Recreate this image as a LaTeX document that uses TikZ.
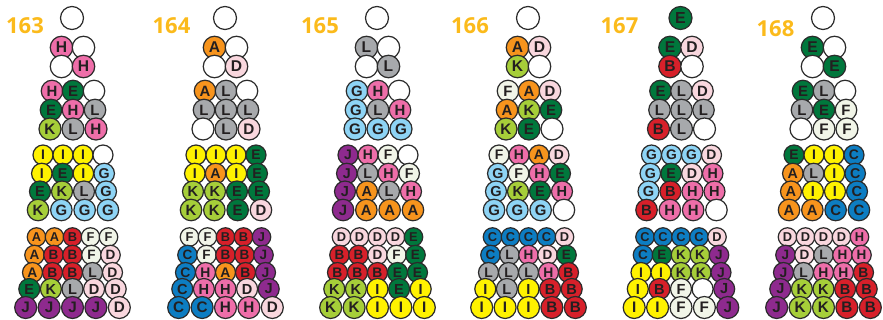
\documentclass[tikz,border=0pt]{standalone}
\usepackage{fontspec}
\setmainfont{Liberation Sans}
\newfontfamily\numfont{Open Sans}

\definecolor{toneA}{HTML}{F7941D}
\definecolor{toneB}{HTML}{D7202A}
\definecolor{toneC}{HTML}{0D7DC2}
\definecolor{toneD}{HTML}{F9D7DE}
\definecolor{toneE}{HTML}{00773C}
\definecolor{toneF}{HTML}{F1F5E8}
\definecolor{toneG}{HTML}{8ED4F5}
\definecolor{toneH}{HTML}{EE6EA9}
\definecolor{toneI}{HTML}{FFF200}
\definecolor{toneJ}{HTML}{8E2A8E}
\definecolor{toneK}{HTML}{A6CE39}
\definecolor{toneL}{HTML}{A7A9AC}
\definecolor{tonex}{HTML}{FFFFFF}
\definecolor{ballrim}{HTML}{2B2B2B}
\definecolor{letterink}{HTML}{231F20}
\definecolor{labelgold}{HTML}{FBBA1B}

\tikzset{
  ball/.style={circle, draw=ballrim, line width=0.9pt, inner sep=0pt, text=letterink},
  pilelabel/.style={text=labelgold, font=\numfont\bfseries\fontsize{16.5}{16.5}\selectfont}
}

% row heights, steps and ball sizes (px) for the groups of 1 to 5 rows
\def\yOne{{18,18}}       \def\sOne{{0,0}}               \def\dOne{{23,23}}
\def\yTwo{{47.5,66.5}}   \def\sTwo{{22,22}}             \def\dTwo{{22.5,22.5}}
\def\yThree{{91,110,129}} \def\sThree{{21,22,23}}       \def\dThree{{21.5,21.5,22}}
\def\yFour{{155,173.5,191.5,210}} \def\sFour{{20,20.8,22,23.3}} \def\dFour{{20,20.5,21,21.5}}
\def\yFive{{237,255,272.5,289,307.5}} \def\sFive{{18,19,20,21.6,23.4}} \def\dFive{{18.5,19.5,20,21,22}}

\newcommand\ballgroup[7]{%
  % #1 name, #2 centre x, #3 size, #4 row y, #5 row step, #6 ball size, #7 rows
  \foreach \row [count=\r from 0] in {#7} {
    \pgfmathsetmacro\yy{#4[\r]}
    \pgfmathsetmacro\ss{#5[\r]}
    \pgfmathsetmacro\dd{#6[\r]}
    \pgfmathsetmacro\ff{0.52*\dd}
    \foreach \tone [count=\i from 0] in \row {
      \pgfmathsetmacro\xx{#2+(\i-(#3-1)/2)*\ss}
      \node[ball, fill=tone\tone, minimum size=\dd*0.75pt,
            font=\bfseries\fontsize{\ff pt}{\ff pt}\selectfont] (#1-\r-\i) at (\xx,\yy)
        {\if x\tone\else\tone\fi};
    }
  }
}

\newcommand\pile[7]{%
  % #1 name, #2 centre x, #3..#7 groups of 1 to 5 rows
  \ballgroup{#1g1}{#2}{1}{\yOne}{\sOne}{\dOne}{#3}
  \ballgroup{#1g2}{#2+0.5}{2}{\yTwo}{\sTwo}{\dTwo}{#4}
  \ballgroup{#1g3}{#2+1}{3}{\yThree}{\sThree}{\dThree}{#5}
  \ballgroup{#1g4}{#2+1}{4}{\yFour}{\sFour}{\dFour}{#6}
  \ballgroup{#1g5}{#2+0.5}{5}{\yFive}{\sFive}{\dFive}{#7}
}

\begin{document}
\begin{tikzpicture}[x=0.75pt, y=-0.75pt]
  \useasboundingbox (0,0) rectangle (883,320);

  % 163
  \node[pilelabel] (n163) at (25,25.5) {163};
  \pile{p163}{72}{{x}}{{H,x},{x,H}}{{H,E,x},{E,H,L},{K,L,H}}
    {{I,I,I,x},{I,E,I,G},{E,K,L,G},{K,G,G,G}}
    {{A,A,B,F,F},{A,B,B,F,D},{A,B,B,L,D},{E,K,L,D,D},{J,J,J,J,D}}

  % 164
  \node[pilelabel] (n164) at (171.5,25.5) {164};
  \pile{p164}{225}{{x}}{{A,x},{x,D}}{{A,L,x},{L,L,L},{x,L,D}}
    {{I,I,I,E},{I,A,I,E},{K,K,E,E},{K,K,E,D}}
    {{F,F,B,B,J},{C,F,B,B,J},{C,H,A,B,J},{C,H,H,D,J},{C,C,H,H,D}}

  % 165
  \node[pilelabel] (n165) at (320,25.5) {165};
  \pile{p165}{377}{{x}}{{L,x},{x,L}}{{G,H,x},{G,L,H},{G,G,G}}
    {{J,H,F,x},{J,L,H,F},{J,A,L,H},{J,A,A,A}}
    {{D,D,D,D,E},{B,B,D,F,E},{B,B,B,E,E},{K,K,I,E,I},{K,K,I,I,I}}

  % 166
  \node[pilelabel] (n166) at (470,25.5) {166};
  \pile{p166}{528}{{x}}{{A,D},{K,x}}{{F,A,D},{A,K,E},{K,E,x}}
    {{F,H,A,D},{G,F,H,E},{G,K,E,H},{G,G,G,x}}
    {{C,C,C,C,D},{C,L,H,D,E},{L,L,L,H,B},{I,L,I,B,B},{I,I,I,B,B}}

  % 167
  \node[pilelabel] (n167) at (619.5,25.5) {167};
  \pile{p167}{680.5}{{E}}{{E,D},{B,x}}{{E,L,D},{L,L,L},{B,L,x}}
    {{G,G,G,D},{G,E,D,H},{G,B,H,H},{B,H,H,x}}
    {{C,C,C,C,D},{C,E,K,K,J},{I,I,K,K,J},{I,B,F,x,J},{I,I,F,F,J}}

  % 168
  \node[pilelabel] (n168) at (775.5,28.5) {168};
  \pile{p168}{823}{{x}}{{E,x},{x,E}}{{E,L,x},{L,E,F},{x,F,F}}
    {{E,I,I,C},{A,L,I,C},{A,I,I,C},{A,A,C,C}}
    {{D,D,D,D,H},{J,D,L,H,H},{J,L,H,H,B},{J,K,K,B,B},{J,K,K,B,B}}
\end{tikzpicture}
\end{document}
